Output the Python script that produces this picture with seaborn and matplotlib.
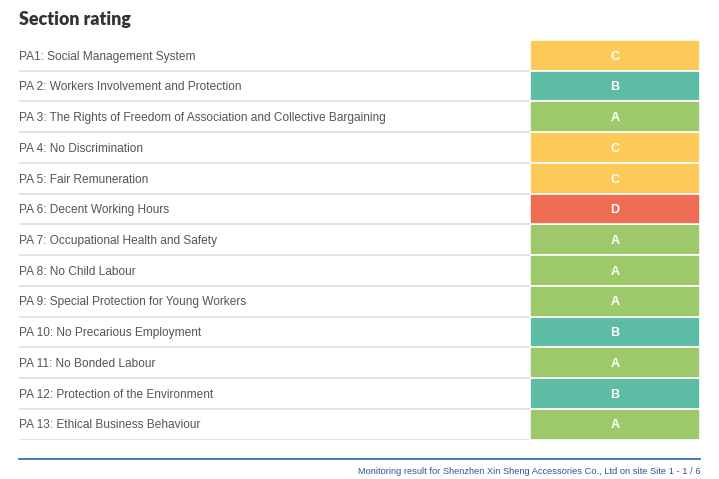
import pandas as pd
import seaborn as sns
import matplotlib.pyplot as plt

# data
sections = [
    "PA1: Social Management System",
    "PA 2: Workers Involvement and Protection",
    "PA 3: The Rights of Freedom of Association and Collective Bargaining",
    "PA 4: No Discrimination",
    "PA 5: Fair Remuneration",
    "PA 6: Decent Working Hours",
    "PA 7: Occupational Health and Safety",
    "PA 8: No Child Labour",
    "PA 9: Special Protection for Young Workers",
    "PA 10: No Precarious Employment",
    "PA 11: No Bonded Labour",
    "PA 12: Protection of the Environment",
    "PA 13: Ethical Business Behaviour",
]
grades = ["C", "B", "A", "C", "C", "D", "A", "A", "A", "B", "A", "B", "A"]
grade_colors = {"A": "#9DC96A", "B": "#5CBDA4", "C": "#FDCA58", "D": "#EE6C53"}

df = pd.DataFrame({"section": sections, "grade": grades, "fill": 1})

W, H = 719, 479
fig = plt.figure(figsize=(W / 100, H / 100), dpi=100)
plt.rcParams["font.family"] = ["Liberation Sans", "DejaVu Sans"]

n = len(sections)
top_px, bot_px = 40, 439.5
left_px, box_px, right_px = 19, 530, 700
y0 = 1 - bot_px / H
hh = (bot_px - top_px) / H

# background axes: labels + separators
bg = fig.add_axes([left_px / W, y0, (right_px - left_px) / W, hh])
bg.set_xlim(0, 1)
bg.set_ylim(n - 0.5, -0.5)
bg.axis("off")
xbox = (box_px - left_px) / (right_px - left_px)
for i, s in enumerate(sections):
    bg.text(0, i + 0.04, s, ha="left", va="center", fontsize=8.6, color="#555555")
    bg.plot([0, xbox], [i + 0.5, i + 0.5], color="#dddddd", lw=1.2, solid_capstyle="butt")

# rating boxes
ax = fig.add_axes([box_px / W, y0, (right_px - box_px) / W, hh])
sns.barplot(data=df, x="fill", y="section", hue="grade", palette=grade_colors,
            orient="h", width=1, dodge=False, legend=False, saturation=1,
            edgecolor="white", linewidth=1.2, ax=ax)
ax.set_xlim(0, 1)
ax.set_ylim(n - 0.5, -0.5)
ax.axis("off")
for i, g in enumerate(grades):
    ax.text(0.5, i + 0.04, g, ha="center", va="center", fontsize=9, fontweight="bold", color="white")

# title and footer
fig.text(left_px / W, 1 - 19 / H, "Section rating", ha="left", va="center",
         fontsize=12.8, fontweight="heavy", color="#333333", family=["Lato", "DejaVu Sans"])
fig.add_artist(plt.Line2D([left_px / W, right_px / W], [1 - 459 / H, 1 - 459 / H],
                          color="#2F6DB5", lw=1.3))
fig.text(right_px / W, 1 - 472 / H,
         "Monitoring result for Shenzhen Xin Sheng Accessories Co., Ltd on site Site 1 - 1 / 6",
         ha="right", va="center", fontsize=6.7, color="#2B55A0")

fig.savefig("out.png", dpi=100)
